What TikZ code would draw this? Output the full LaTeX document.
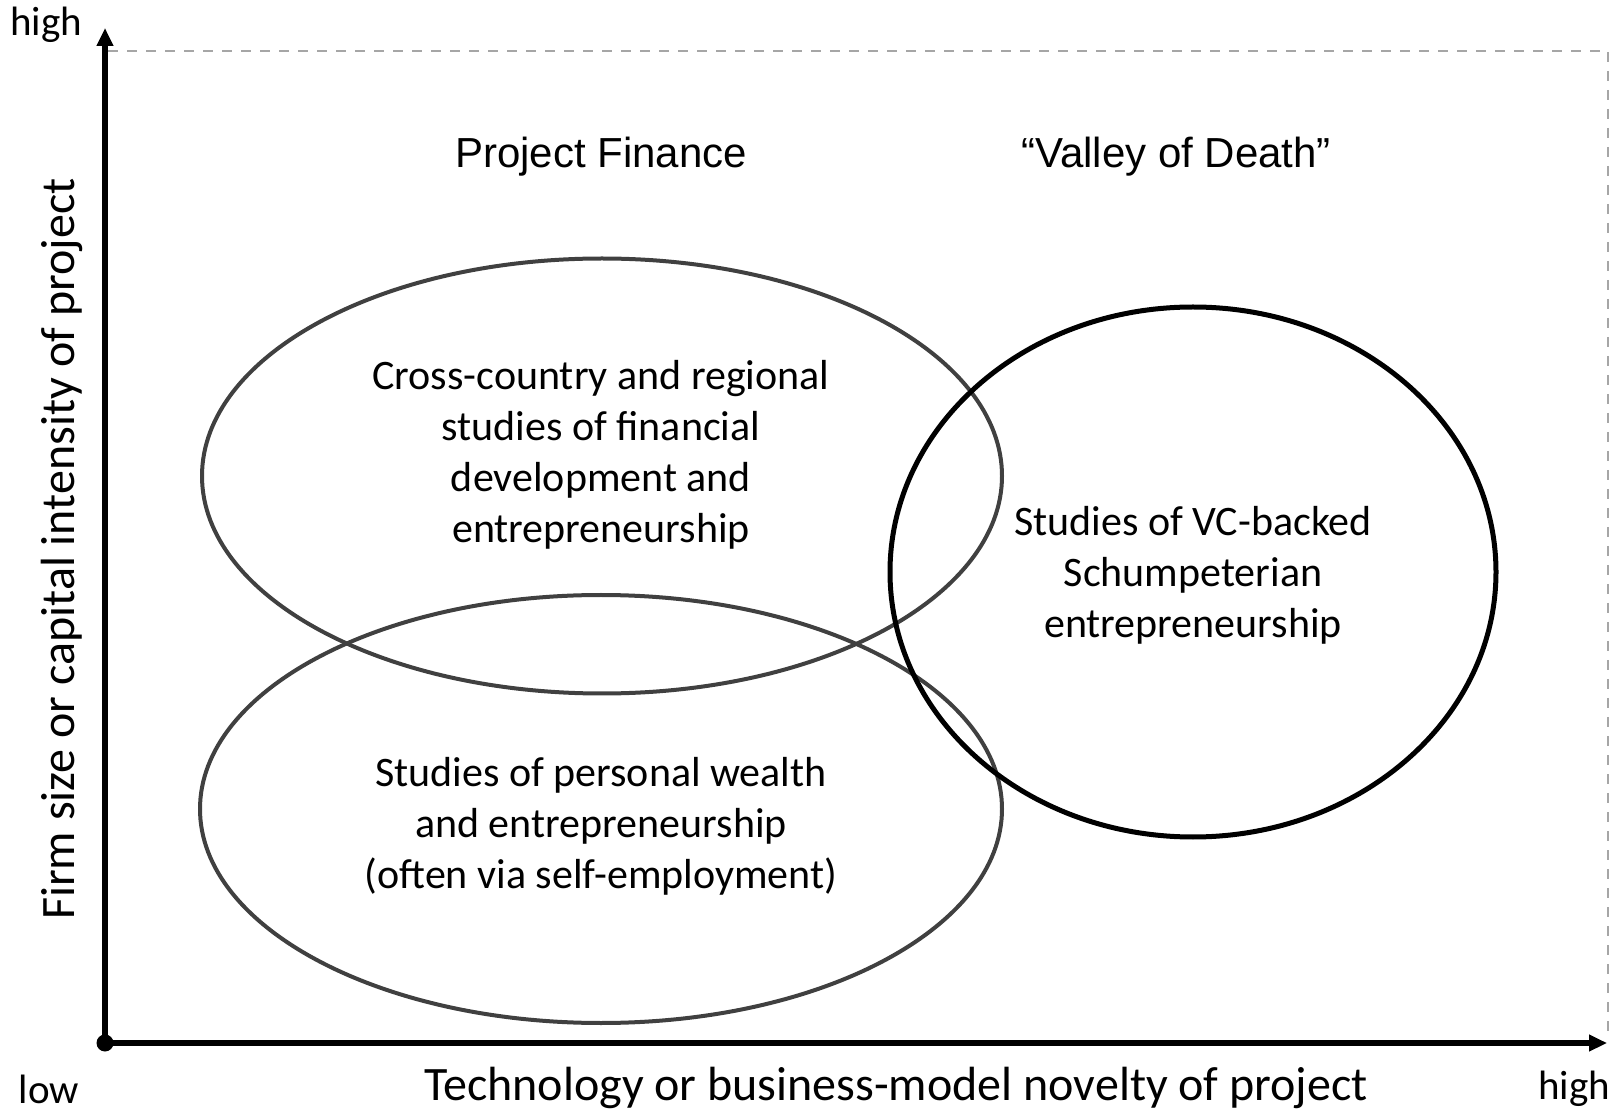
\documentclass[tikz,border=0pt]{standalone}
\usepackage{fontspec}
\setmainfont{Carlito}
\newfontfamily\arialfont{Liberation Sans}
\usetikzlibrary{shapes.geometric,arrows.meta}
\definecolor{ellgray}{HTML}{404040}
\definecolor{dashgray}{HTML}{A6A6A6}
\tikzset{
  axisline/.style={line width=3pt, -{Triangle[width=8pt,length=9pt]}},
  oval/.style={draw=ellgray, line width=2pt, ellipse, inner sep=0pt, outer sep=0pt},
  ovalblack/.style={draw=black, line width=2.5pt, ellipse, inner sep=0pt, outer sep=0pt},
  bodytext/.style={align=center, inner sep=0pt, font=\fontsize{21}{25.5}\selectfont},
  headtext/.style={inner sep=0pt, font=\arialfont\fontsize{21}{25}\selectfont},
  axislabel/.style={inner sep=0pt, font=\fontsize{24}{28}\selectfont},
  endlabel/.style={inner sep=0pt, font=\fontsize{20.5}{24}\selectfont},
}
\begin{document}
\begin{tikzpicture}[x=0.5pt, y=-0.5pt]
\useasboundingbox (0,0) rectangle (1624,1112);
% frame
\coordinate (O) at (105,1043);
\coordinate (ytop) at (105,28);
\coordinate (xend) at (1607,1043);
\coordinate (dtl) at (108,51);
\coordinate (dtr) at (1608,51);
\coordinate (dbr) at (1608,1032);
\draw[dashgray, line width=1pt, dash pattern=on 5pt off 4.5pt] (dtl) -- (dtr) -- (dbr);
% ellipses
\node[oval, minimum width=400pt, minimum height=217.5pt] (upper) at (602,476) {};
\node[oval, minimum width=401pt, minimum height=214pt] (lower) at (601,809) {};
\node[ovalblack, minimum width=303pt, minimum height=265pt] (right) at (1193,572) {};
% axes
\draw[axisline] (O) -- (ytop);
\draw[axisline] (O) -- (xend);
\fill (O) circle[radius=4.25pt];
% texts
\node[headtext] (pf) at (601,157) {Project Finance};
\node[headtext] (vod) at (1176,157) {“Valley of Death”};
\node[bodytext] (cross) at (601,455) {Cross-country and regional\\studies of financial\\development and\\entrepreneurship};
\node[bodytext] (vc) at (1193,575) {Studies of VC-backed\\Schumpeterian\\entrepreneurship};
\node[bodytext] (wealth) at (601,826) {Studies of personal wealth\\and entrepreneurship\\(often via self-employment)};
\node[axislabel] (xlab) at (896,1088) {Technology or business-model novelty of project};
\node[axislabel, rotate=90] (ylab) at (62,549) {Firm size or capital intensity of project};
\node[endlabel] (low) at (49,1089) {low};
\node[endlabel] (highx) at (1574,1089) {high};
\node[endlabel] (highy) at (46,25) {high};
\end{tikzpicture}
\end{document}
